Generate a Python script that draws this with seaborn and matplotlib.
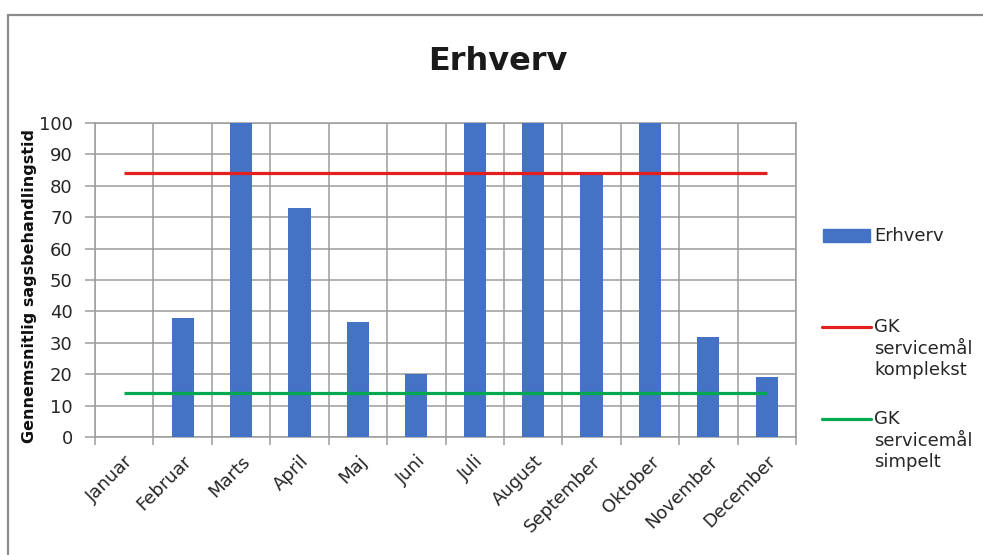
import matplotlib
matplotlib.use('Agg')
import matplotlib.pyplot as plt
from matplotlib.lines import Line2D
from matplotlib.patches import Rectangle
from matplotlib.ticker import FixedLocator
import numpy as np
import seaborn as sns

months = ['Januar', 'Februar', 'Marts', 'April', 'Maj', 'Juni', 'Juli',
          'August', 'September', 'Oktober', 'November', 'December']
erhverv = [0, 38, 100, 73, 36.5, 20, 100, 100, 84, 100, 32, 19]
gk_komplekst = [84] * 12
gk_simpelt = [14] * 12

bar_color = '#4472C4'
red = '#E3201F'
green = '#00A84F'
grid = '#9C9C9C'
txt = '#262626'

sns.set_style('white')
plt.rcParams['font.family'] = ['DejaVu Sans']

fig = plt.figure(figsize=[9.83, 5.55], dpi=100)
ax = fig.add_axes([95 / 983, 118 / 555, 701 / 983, 314 / 555])

sns.barplot(x=months, y=erhverv, color=bar_color, saturation=1, width=0.38,
            linewidth=0, ax=ax, zorder=3)
pos = np.arange(len(months))
ax.plot(pos, gk_komplekst, color=red, lw=2.3, zorder=4, solid_capstyle='butt')
ax.plot(pos, gk_simpelt, color=green, lw=2.3, zorder=4, solid_capstyle='butt')

ax.set_xlim(-0.5, len(months) - 0.5)
ax.set_ylim(0, 100)
ax.set_yticks(range(0, 101, 10))
ax.xaxis.set_minor_locator(FixedLocator(np.arange(-0.5, len(months), 1)))
ax.grid(False)
ax.grid(True, axis='y', which='major', color=grid, lw=1.1, zorder=0)
ax.grid(True, axis='x', which='minor', color=grid, lw=1.1, zorder=0)
ax.tick_params(axis='x', which='major', length=0, pad=11, labelsize=13, labelcolor=txt)
ax.tick_params(axis='x', which='minor', length=6, color=grid, width=1.1, direction='out', bottom=True)
ax.tick_params(axis='y', length=7, color=grid, width=1.1, direction='out', left=True, pad=9,
               labelsize=13, labelcolor=txt)
plt.setp(ax.get_xticklabels(), rotation=45, ha='right', rotation_mode='anchor')
for s in ax.spines.values():
    s.set_color(grid)
    s.set_linewidth(1.1)

ax.set_ylabel('Gennemsnitlig sagsbehandlingstid', fontsize=11.5, fontweight='bold', color='#111111')
ax.yaxis.set_label_coords(-58 / 701, 0.48)

fig.text(498 / 983, 1 - 62 / 555, 'Erhverv', fontsize=23, fontweight='bold',
         ha='center', va='center', color='#1a1a1a')

# legend drawn by hand so the markers sit on the first text line, as in the original
def fx(px):
    return px / 983

def fy(py):
    return 1 - py / 555

fig.add_artist(Rectangle((fx(823), fy(242)), 47 / 983, 13 / 555, color=bar_color,
                         transform=fig.transFigure))
fig.text(fx(874), fy(236), 'Erhverv', fontsize=13, va='center', color=txt)
fig.add_artist(Line2D([fx(822), fx(871)], [fy(327), fy(327)], color=red, lw=2.3,
                      transform=fig.transFigure))
fig.text(fx(874), fy(318), 'GK\nservicemål\nkomplekst', fontsize=13, va='top',
         color=txt, linespacing=1.25)
fig.add_artist(Line2D([fx(822), fx(871)], [fy(419), fy(419)], color=green, lw=2.3,
                      transform=fig.transFigure))
fig.text(fx(874), fy(410), 'GK\nservicemål\nsimpelt', fontsize=13, va='top',
         color=txt, linespacing=1.25)

# outer chart frame (only top and left edges are visible in the crop)
fig.add_artist(Line2D([fx(8), fx(983)], [fy(15), fy(15)], color='#8a8a8a', lw=1.6,
                      transform=fig.transFigure))
fig.add_artist(Line2D([fx(8), fx(8)], [fy(15), fy(555)], color='#8a8a8a', lw=1.6,
                      transform=fig.transFigure))

plt.savefig('out.png', dpi=100)
